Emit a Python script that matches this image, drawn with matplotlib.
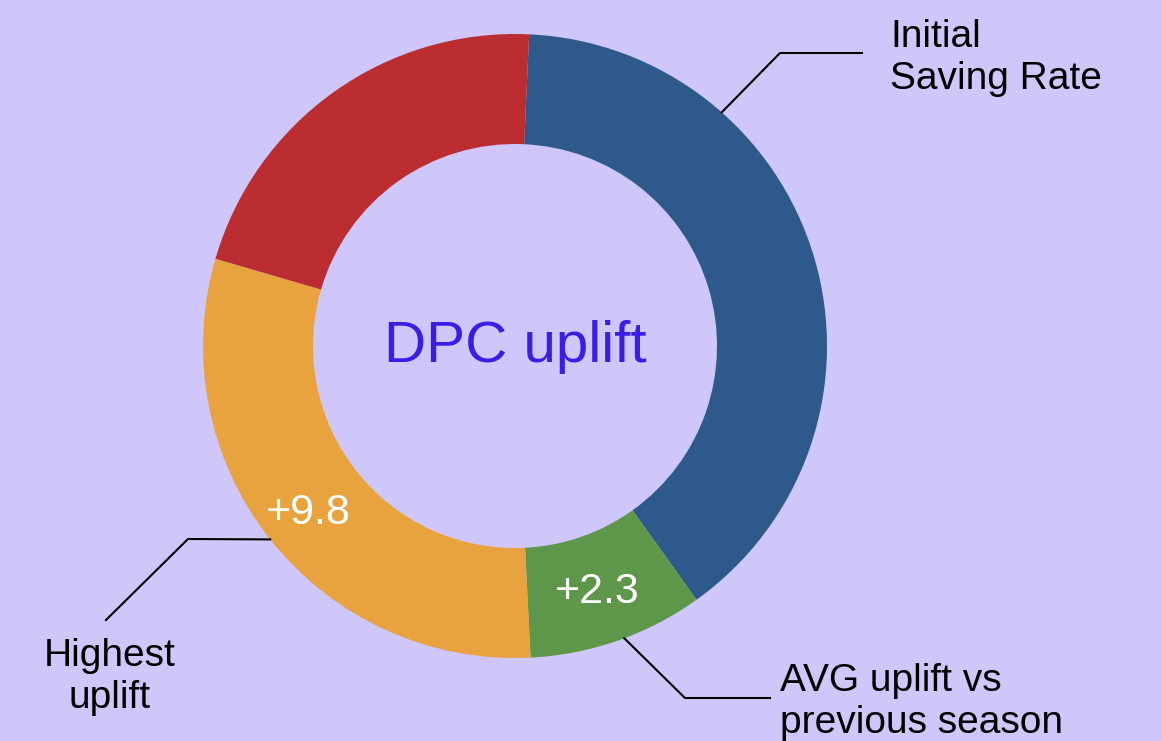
import numpy as np
import matplotlib
matplotlib.use("Agg")
import matplotlib.pyplot as plt

# segment shares, clockwise from the top
segments = ["Initial Saving Rate", "AVG uplift", "Highest uplift", "Other"]
shares = [13, 3, 10, 7]
colors = ["#2E5A8B", "#5E9749", "#E8A33E", "#BC2D31"]
inner_labels = ["", "+2.3", "+9.8", ""]
bg = "#CFC6FA"

plt.rcParams["font.family"] = ["Liberation Sans", "DejaVu Sans"]

W, H = 1162, 741
fig = plt.figure(figsize=(W / 100, H / 100), dpi=100, facecolor=bg)
ax = fig.add_axes([0, 0, 1, 1])
ax.set_facecolor(bg)

cx, cy = 515, H - 346
R, ring = 312, 110
start = 87.4

wedges, _ = ax.pie(shares, colors=colors, startangle=start, counterclock=False,
                   center=(cx, cy), radius=R,
                   wedgeprops=dict(width=ring, linewidth=0))
ax.set_xlim(0, W)
ax.set_ylim(0, H)
ax.set_aspect("auto")
ax.axis("off")

def py(y):
    return H - y

# center title
ax.text(cx, py(347), "DPC uplift", color="#3A1EE8", fontsize=42,
        ha="center", va="center")

# values inside ring
ax.text(308, py(513), inner_labels[2], color="white", fontsize=31, ha="center", va="center")
ax.text(597, py(592), inner_labels[1], color="white", fontsize=31, ha="center", va="center")

def edge(angle):
    a = np.deg2rad(angle)
    return cx + R * np.cos(a), cy + R * np.sin(a)

# leader lines
x0, y0 = edge(48.5)
ax.plot([x0, 780, 862], [y0, py(53), py(53)], color="black", lw=1.5)
mid_orange = (wedges[2].theta1 + wedges[2].theta2) / 2
x0, y0 = edge(mid_orange)
ax.plot([x0, 188, 106], [y0, py(539), py(620)], color="black", lw=1.5)
x0, y0 = edge(-69.5)
ax.plot([x0, 685, 770], [y0, py(698), py(698)], color="black", lw=1.5)

ax.text(890, py(58), "Initial\nSaving Rate", fontsize=28, ha="left", va="center",
        linespacing=1.24)
ax.text(110, py(677), "Highest\nuplift", fontsize=28, ha="center", va="center",
        multialignment="center", linespacing=1.24)
ax.text(780, py(702), "AVG uplift vs\nprevious season", fontsize=28, ha="left",
        va="center", linespacing=1.24)

fig.savefig("out.png", dpi=100, facecolor=bg)
